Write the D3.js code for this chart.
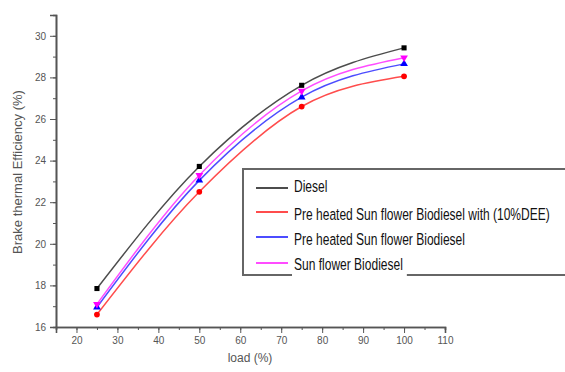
<!DOCTYPE html>
<html>
<head>
<meta charset="utf-8">
<script src="https://cdn.jsdelivr.net/npm/d3@7"></script>
<style>
body { margin: 0; background: #fff; }
svg { display: block; }
</style>
</head>
<body>
<div id="chart-area"></div>
<script>
var loads = [25, 50, 75, 100];
var diesel = [17.85, 23.72, 27.62, 29.42];
var preheatedDEE = [16.6, 22.5, 26.6, 28.05];
var preheated = [16.95, 23.05, 27.05, 28.65];
var sunflower = [17.1, 23.3, 27.35, 28.95];
var seriesNames = ["Diesel", "Pre heated Sun flower Biodiesel with (10%DEE)", "Pre heated Sun flower Biodiesel", "Sun flower Biodiesel"];
var xTicks = [20, 30, 40, 50, 60, 70, 80, 90, 100, 110];
var yTicks = [16, 18, 20, 22, 24, 26, 28, 30];

var width = 565, height = 372;

var svg = d3.select("#chart-area").append("svg")
    .attr("width", width)
    .attr("height", height);

var x = d3.scaleLinear().domain([15, 110]).range([56, 445]);
var y = d3.scaleLinear().domain([16, 31]).range([327, 15]);

var series = [
    {name: seriesNames[0], values: diesel, color: "#000000", shape: d3.symbolSquare},
    {name: seriesNames[1], values: preheatedDEE, color: "#ff0000", shape: d3.symbolCircle},
    {name: seriesNames[2], values: preheated, color: "#0000ff", shape: d3.symbolTriangle},
    {name: seriesNames[3], values: sunflower, color: "#ff00ff", shape: "down"}
];

// minor ticks
var xMinor = d3.axisBottom(x).tickValues(d3.range(15, 111, 5)).tickSize(3).tickFormat("");
var yMinor = d3.axisLeft(y).tickValues(d3.range(16, 32, 1)).tickSize(3).tickFormat("");

svg.append("g").attr("class", "x minor")
    .attr("transform", "translate(0," + y(16) + ")")
    .call(xMinor);
svg.append("g").attr("class", "y minor")
    .attr("transform", "translate(" + x(15) + ",0)")
    .call(yMinor);

var xAxis = d3.axisBottom(x).tickValues(xTicks).tickSize(6).tickPadding(4);
var yAxis = d3.axisLeft(y).tickValues(yTicks).tickSize(6).tickPadding(4);

svg.append("g").attr("class", "x axis")
    .attr("transform", "translate(0," + y(16) + ")")
    .call(xAxis);
svg.append("g").attr("class", "y axis")
    .attr("transform", "translate(" + x(15) + ",0)")
    .call(yAxis);

svg.selectAll(".axis path, .minor path")
    .attr("stroke", "#555").attr("stroke-width", 1.6);
svg.selectAll(".axis line, .minor line")
    .attr("stroke", "#555").attr("stroke-width", 1);
svg.selectAll(".axis text")
    .attr("font-family", "Arial, 'Liberation Sans', sans-serif")
    .attr("font-size", "10px")
    .attr("fill", "#555");

svg.append("text")
    .attr("x", 250).attr("y", 362)
    .attr("text-anchor", "middle")
    .attr("font-family", "Arial, 'Liberation Sans', sans-serif")
    .attr("font-size", "12px")
    .attr("fill", "#555")
    .text("load (%)");

svg.append("text")
    .attr("transform", "translate(22,172) rotate(-90)")
    .attr("text-anchor", "middle")
    .attr("font-family", "Arial, 'Liberation Sans', sans-serif")
    .attr("font-size", "13px")
    .attr("fill", "#555")
    .text("Brake thermal Efficiency (%)");

var line = d3.line()
    .x((d, i) => x(loads[i]))
    .y(d => y(d))
    .curve(d3.curveMonotoneX);

series.forEach((s) => {
    svg.append("path")
        .datum(s.values)
        .attr("fill", "none")
        .attr("stroke", s.color)
        .attr("stroke-opacity", 0.7)
        .attr("stroke-width", 1.5)
        .attr("d", line);

    var sym = s.shape === "down" ? d3.symbolTriangle : s.shape;
    svg.selectAll(null)
        .data(s.values)
        .enter()
        .append("path")
        .attr("d", d3.symbol().type(sym).size(26))
        .attr("transform", (d, i) => "translate(" + x(loads[i]) + "," + y(d) + ")" + (s.shape === "down" ? " rotate(180)" : ""))
        .attr("fill", s.color);
});

// legend
var legend = svg.append("g");
legend.append("rect")
    .attr("x", 243).attr("y", 169)
    .attr("width", 330).attr("height", 106)
    .attr("fill", "#fff")
    .attr("stroke", "#666")
    .attr("stroke-width", 2);

var legendY = [188, 212, 237, 263];
var labelOffset = [4, 8, 8, 7];
var texts = [];
series.forEach((s, i) => {
    legend.append("line")
        .attr("x1", 256).attr("x2", 288)
        .attr("y1", legendY[i]).attr("y2", legendY[i])
        .attr("stroke", s.color)
        .attr("stroke-opacity", 0.7)
        .attr("stroke-width", 2);
    var t = legend.append("text")
        .attr("y", legendY[i] + labelOffset[i])
        .attr("font-family", "'Liberation Sans', Arial, sans-serif")
        .attr("font-size", "16.5px")
        .attr("fill", "#111")
        .text(s.name);
    texts.push(t);
});

// condense legend labels so the longest one ends where it does in the picture
var longest = texts[1].node().getComputedTextLength();
var k = 256 / longest;
texts.forEach((t, i) => {
    t.attr("transform", "translate(294,0) scale(" + k + ",1)");
    if (i === 3) {
        var w = t.node().getComputedTextLength() * k;
        legend.insert("rect", "text")
            .attr("x", 292).attr("y", legendY[i] - 4)
            .attr("width", w + 6).attr("height", 18)
            .attr("fill", "#fff");
    }
});
</script>
</body>
</html>
